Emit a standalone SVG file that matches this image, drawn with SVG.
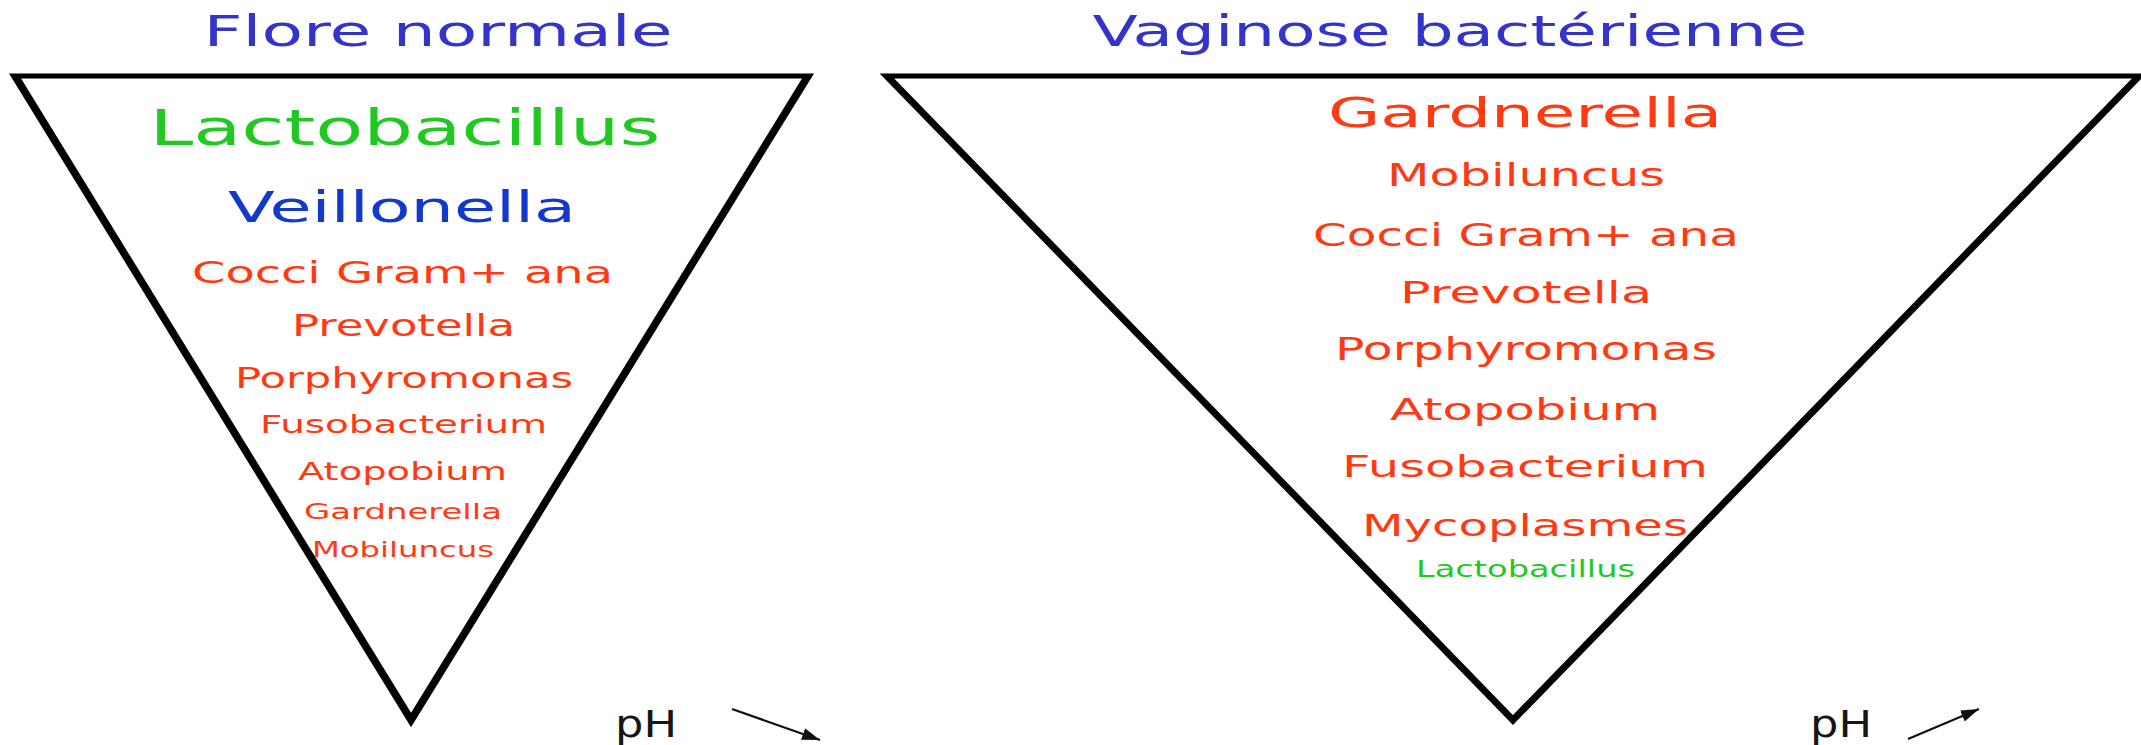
<svg xmlns="http://www.w3.org/2000/svg" width="2141" height="745" viewBox="0 0 2141 745">
<style>
text{font-family:"DejaVu Sans","Verdana",sans-serif;text-anchor:middle}
.title{fill:#3434cc;font-size:43px}
.red{fill:#ff3a12}
.green{fill:#22c822}
.blue{fill:#1238cc}
.ph{fill:#151515;font-size:37px}
.tri{fill:none;stroke:#000;stroke-width:5.2;stroke-linejoin:miter;stroke-miterlimit:12}
.arrow{stroke:#111;stroke-width:2.2;fill:none}
</style>
<defs>
<marker id="ah" markerUnits="userSpaceOnUse" markerWidth="20" markerHeight="14" refX="18" refY="7" orient="auto">
<path d="M0,1 L18,7 L0,13 Z" fill="#111"/>
</marker>
</defs>
<rect width="2141" height="745" fill="#fff"/>
<g id="triangle-normal" transform="scale(1.6,1)">
<polygon class="tri" points="9.4,76 505,76 256.9,720"/>
</g>
<g id="triangle-vb" transform="scale(1.6,1)">
<polygon class="tri" points="554.4,76 1336.9,76 945.6,720"/>
</g>
<g id="title-normal"><text class="title" x="438" y="46" textLength="469" lengthAdjust="spacingAndGlyphs">Flore normale</text></g>
<g id="title-vb"><text class="title" x="1450" y="46" textLength="715" lengthAdjust="spacingAndGlyphs">Vaginose bactérienne</text></g>
<g id="normal-list">
<text class="green" x="405" y="145" font-size="50" textLength="511" lengthAdjust="spacingAndGlyphs">Lactobacillus</text>
<text class="blue" x="402" y="222" font-size="43" textLength="348" lengthAdjust="spacingAndGlyphs">Veillonella</text>
<text class="red" x="402.5" y="283" font-size="30" textLength="421" lengthAdjust="spacingAndGlyphs">Cocci Gram+ ana</text>
<text class="red" x="403.5" y="336" font-size="30" textLength="223" lengthAdjust="spacingAndGlyphs">Prevotella</text>
<text class="red" x="404" y="388" font-size="29" textLength="338" lengthAdjust="spacingAndGlyphs">Porphyromonas</text>
<text class="red" x="403.5" y="433" font-size="25" textLength="287" lengthAdjust="spacingAndGlyphs">Fusobacterium</text>
<text class="red" x="402.5" y="480" font-size="25" textLength="209" lengthAdjust="spacingAndGlyphs">Atopobium</text>
<text class="red" x="403" y="519" font-size="22" textLength="198" lengthAdjust="spacingAndGlyphs">Gardnerella</text>
<text class="red" x="403" y="557" font-size="21" textLength="182" lengthAdjust="spacingAndGlyphs">Mobiluncus</text>
</g>
<g id="vb-list">
<text class="red" x="1525" y="127" font-size="41" textLength="394" lengthAdjust="spacingAndGlyphs">Gardnerella</text>
<text class="red" x="1526" y="186" font-size="31.5" textLength="278" lengthAdjust="spacingAndGlyphs">Mobiluncus</text>
<text class="red" x="1526" y="246" font-size="31.5" textLength="426" lengthAdjust="spacingAndGlyphs">Cocci Gram+ ana</text>
<text class="red" x="1526" y="303" font-size="31" textLength="252" lengthAdjust="spacingAndGlyphs">Prevotella</text>
<text class="red" x="1526" y="360" font-size="31.5" textLength="382" lengthAdjust="spacingAndGlyphs">Porphyromonas</text>
<text class="red" x="1525" y="420" font-size="31" textLength="270" lengthAdjust="spacingAndGlyphs">Atopobium</text>
<text class="red" x="1525" y="477" font-size="31" textLength="366" lengthAdjust="spacingAndGlyphs">Fusobacterium</text>
<text class="red" x="1525" y="536" font-size="31" textLength="326" lengthAdjust="spacingAndGlyphs">Mycoplasmes</text>
<text class="green" x="1525.5" y="577" font-size="23" textLength="219" lengthAdjust="spacingAndGlyphs">Lactobacillus</text>
</g>
<g id="ph-normal"><text class="ph" x="646" y="737" textLength="62" lengthAdjust="spacingAndGlyphs">pH</text></g>
<g id="ph-vb"><text class="ph" x="1841" y="737" textLength="62" lengthAdjust="spacingAndGlyphs">pH</text></g>
<g id="connectors">
<line class="arrow" x1="732" y1="709" x2="820" y2="740" marker-end="url(#ah)"/>
<line class="arrow" x1="1908" y1="739" x2="1979" y2="709" marker-end="url(#ah)"/>
</g>
</svg>
